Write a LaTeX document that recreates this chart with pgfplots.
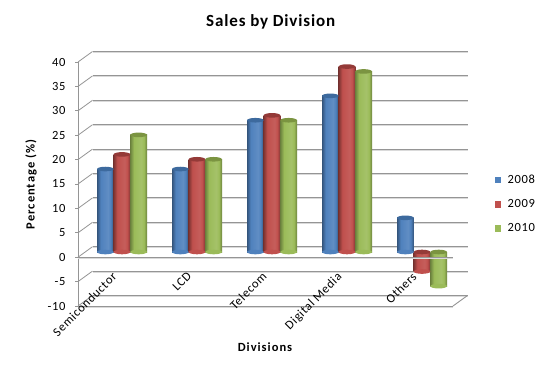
\documentclass[border=0pt]{standalone}
\usepackage{pgfplots}
\pgfplotsset{compat=1.18}
\usepackage{fontspec}
\setmainfont[LetterSpace=5]{Carlito}
\newfontfamily\widefont[LetterSpace=8]{Carlito}
\definecolor{gridc}{HTML}{959595}
\definecolor{grids}{HTML}{DADADA}
\definecolor{bl}{HTML}{4F81BD}\definecolor{blc}{HTML}{3D6A9E}
\definecolor{rd}{HTML}{C0504D}\definecolor{rdc}{HTML}{943A38}
\definecolor{gr}{HTML}{9BBB59}\definecolor{grc}{HTML}{7B9441}
\pgfdeclarehorizontalshading{cylb}{100bp}{color(0bp)=(black!35!bl);color(25bp)=(black!35!bl);color(36bp)=(bl);color(58bp)=(bl!90!white);color(66bp)=(bl);color(75bp)=(black!35!bl);color(100bp)=(black!35!bl)}
\pgfdeclarehorizontalshading{cylr}{100bp}{color(0bp)=(black!35!rd);color(25bp)=(black!35!rd);color(36bp)=(rd);color(58bp)=(rd!92!white);color(66bp)=(rd);color(75bp)=(black!35!rd);color(100bp)=(black!35!rd)}
\pgfdeclarehorizontalshading{cylg}{100bp}{color(0bp)=(black!30!gr);color(25bp)=(black!30!gr);color(36bp)=(gr);color(58bp)=(gr!90!white);color(66bp)=(gr);color(75bp)=(black!30!gr);color(100bp)=(black!30!gr)}
\pgfdeclareplotmark{capel}{\pgfpathellipse{\pgfpointorigin}{\pgfqpoint{8.3pt}{0pt}}{\pgfqpoint{0pt}{2.3pt}}\pgfusepathqfill}
\pgfplotsset{
  plane/.style={scale only axis,width=375pt,height=244pt,xmin=0,xmax=5,ymin=-10,ymax=40,clip=false},
  cyl/.style={ybar,bar width=16.7pt,bar shift=0pt,draw=none,shade,shading=#1,forget plot},
  cap/.style={only marks,mark=capel,mark options={fill=#1,draw=none},forget plot},
  sq/.style={legend image code/.code={\path[draw=none] (0pt,0pt) -- (12pt,0pt);\fill[#1,draw=none] (1pt,-3.3pt) rectangle (7.6pt,3.3pt);}},
}
\begin{document}
\begin{tikzpicture}[x=1pt,y=1pt]
\path[use as bounding box,fill=white] (0,0) rectangle (543,370);
\begin{axis}[plane,at={(78pt,64pt)},
  axis x line*=bottom,axis y line*=left,
  axis line style={gridc,line width=1pt,-},
  ytick={-10,-5,...,40},xtick=\empty,
  major tick length=3pt,y tick style={gridc,line width=0.8pt},
  tick align=outside,
  /pgf/number format/assume math mode=true,
  ticklabel style={font=\fontsize{12.5}{14}\selectfont},
  yticklabel style={xshift=-6pt},
  xlabel={\widefont\textbf{Divisions}},ylabel={\widefont\textbf{Percentage (\%)}},
  xlabel style={at={(axis description cs:0.5,0)},anchor=center,yshift=-41pt,font=\fontsize{12.5}{14}\selectfont},
  ylabel style={at={(axis description cs:0,0.5)},anchor=center,yshift=47pt,font=\fontsize{12.5}{14}\selectfont},
  title={\textbf{Sales by Division}},
  title style={at={(axis description cs:0.515,1)},anchor=center,yshift=34pt,font=\fontsize{17}{20}\selectfont},
]
\pgfplotsinvokeforeach{-10,-5,0,5,10,15,20,25,30,35,40}{
  \draw[grids,line width=1pt] ([xshift=14.5pt,yshift=9.5pt]axis cs:0,#1) -- ([xshift=14.5pt,yshift=9.5pt]axis cs:5,#1);
  \draw[gridc,line width=1pt] ([xshift=14.5pt,yshift=10.5pt]axis cs:0,#1) -- ([xshift=14.5pt,yshift=10.5pt]axis cs:5,#1);
  \draw[gridc,line width=0.8pt] (axis cs:0,#1) -- ([xshift=14.5pt,yshift=10.5pt]axis cs:0,#1);
}
\draw[grids,line width=1pt] ([yshift=-1pt]axis cs:0,-10) -- ([yshift=-1pt]axis cs:5,-10);
\draw[gridc,line width=0.9pt] (axis cs:5,-10) -- ([xshift=14.5pt,yshift=10.5pt]axis cs:5,-10);
\end{axis}
\begin{axis}[plane,at={(84.5pt,69.2pt)},axis lines=none,
  legend style={at={(rel axis cs:1,0.5)},draw=none,fill=none,anchor=west,xshift=34pt,yshift=-25.5pt,
    font=\fontsize{12.5}{14}\selectfont,row sep=10.5pt,inner sep=0pt,
    /tikz/every even column/.append style={column sep=0pt}},
  legend cell align=left]
\addlegendimage{sq=bl}\addlegendentry{2008}
\addlegendimage{sq=rd}\addlegendentry{2009}
\addlegendimage{sq=gr}\addlegendentry{2010}
% 2008
\addplot[cap=bl] coordinates {(0.278,0)(1.278,0)(2.278,0)(3.278,0)(4.278,0)};
\addplot[cyl=cylb] coordinates {(0.278,17)};
\addplot[cyl=cylb] coordinates {(1.278,17)};
\addplot[cyl=cylb] coordinates {(2.278,27)};
\addplot[cyl=cylb] coordinates {(3.278,32)};
\addplot[cyl=cylb] coordinates {(4.278,7)};
\addplot[cap=blc] coordinates {(0.278,17)(1.278,17)(2.278,27)(3.278,32)(4.278,7)};
% 2009
\addplot[cap=rd] coordinates {(0.5,0)(1.5,0)(2.5,0)(3.5,0)(4.5,-4)};
\addplot[cyl=cylr] coordinates {(0.5,20)};
\addplot[cyl=cylr] coordinates {(1.5,19)};
\addplot[cyl=cylr] coordinates {(2.5,28)};
\addplot[cyl=cylr] coordinates {(3.5,38)};
\addplot[cyl=cylr] coordinates {(4.5,-4)};
\addplot[cap=rdc] coordinates {(0.5,20)(1.5,19)(2.5,28)(3.5,38)(4.5,0)};
% 2010
\addplot[cap=gr] coordinates {(0.722,0)(1.722,0)(2.722,0)(3.722,0)(4.722,-7)};
\addplot[cyl=cylg] coordinates {(0.722,24)};
\addplot[cyl=cylg] coordinates {(1.722,19)};
\addplot[cyl=cylg] coordinates {(2.722,27)};
\addplot[cyl=cylg] coordinates {(3.722,37)};
\addplot[cyl=cylg] coordinates {(4.722,-7)};
\addplot[cap=grc] coordinates {(0.722,24)(1.722,19)(2.722,27)(3.722,37)(4.722,0)};
\end{axis}
\begin{axis}[plane,at={(78pt,64pt)},
  axis line style={draw=none},y tick style={draw=none},x tick style={draw=none},
  ytick=\empty,xtick={0.5,1.5,2.5,3.5,4.5},axis x line*=bottom,axis y line*=left,
  xticklabels={Semiconductor,LCD,Telecom,Digital Media,Others},
  major tick length=3pt,tick align=outside,
  ticklabel style={font=\fontsize{12.5}{14}\selectfont},
  xticklabel style={rotate=45,anchor=north east,xshift=27pt,yshift=33pt}]
\addplot[gridc,line width=1pt,forget plot] coordinates {(0,0)(5,0)};
\addplot[grids,line width=0.8pt,forget plot,yshift=-1pt] coordinates {(0,0)(5,0)};
\end{axis}
\end{tikzpicture}
\end{document}
